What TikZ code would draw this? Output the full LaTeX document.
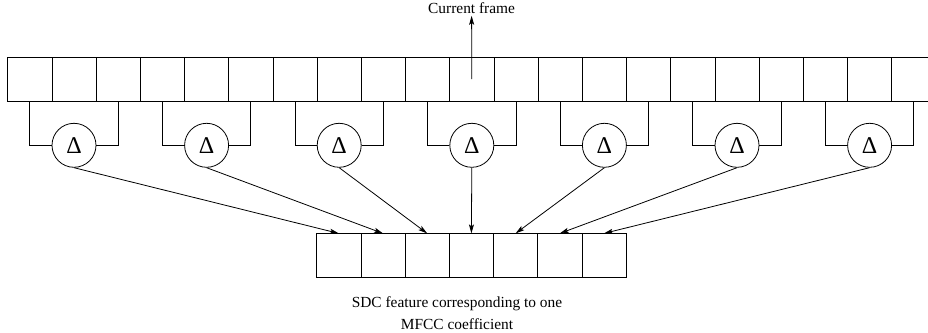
\documentclass[tikz,border=0pt]{standalone}
\usepackage{fontspec}
\setmainfont{Liberation Serif}
\usetikzlibrary{positioning, arrows.meta}

\tikzset{
	cell/.style={draw, minimum size=44.2pt, inner sep=0pt, outer sep=0pt},
	delta/.style={draw, circle, minimum size=44pt, inner sep=0pt, font=\fontsize{24}{24}\selectfont},
	lbl/.style={font=\fontsize{15.4}{22.5}\selectfont, inner sep=0pt},
}

\begin{document}
\begin{tikzpicture}[x=1pt, y=1pt, line width=0.8pt, >={Stealth[length=9pt, width=5pt, inset=2pt]}]
		\useasboundingbox (0,0) rectangle (928,-332);
		
		% frames of the signal
		\node[cell] (f0) at (29.8,-79.2) {};
		\foreach \i [remember=\i as \j (initially 0)] in {1,...,20}
			\node[cell, right=0pt of f\j] (f\i) {};
		
		% delta operators over frame pairs
		\foreach \k in {1,...,7} {
			\pgfmathtruncatemacro{\c}{3*\k-2}
			\pgfmathtruncatemacro{\l}{3*\k-3}
			\pgfmathtruncatemacro{\r}{3*\k-1}
			\node[delta] (d\k) at (f\c.center |- 0,-145.3) {Δ};
			\draw (f\l.south) |- (d\k.west);
			\draw (f\r.south) |- (d\k.east);
		}
		
		% stacked SDC vector
		\node[cell] (s1) at (338.8,-255.5) {};
		\foreach \i [remember=\i as \j (initially 1)] in {2,...,7}
			\node[cell, right=0pt of s\j] (s\i) {};
		
		\foreach \k in {1,...,7}
			\draw[->] (d\k.south) -- (s\k.north);
		
		\node[lbl, anchor=base] (cur) at (471.6,-13.3) {Current frame};
		\draw[->] (f10.center) -- ([yshift=-2.5pt]cur.base);
		
		\node[lbl, align=center, anchor=north] (sdc) at (457,-296) {SDC feature corresponding to one\\MFCC coefficient};
		
		\end{tikzpicture}
\end{document}
